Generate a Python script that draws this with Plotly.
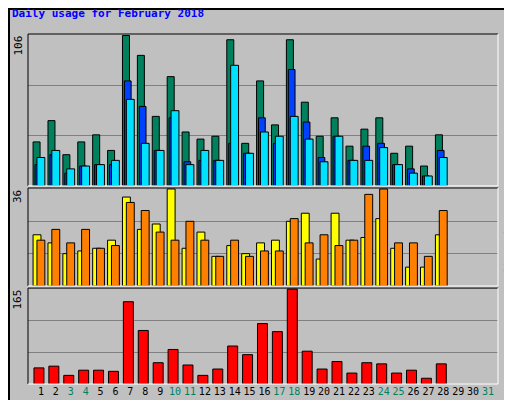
import plotly.graph_objects as go

days = list(range(1, 32))
data_days = list(range(1, 29))
hits  = [31,46,22,31,36,25,106,92,49,77,38,33,35,103,30,74,43,103,59,35,48,28,40,48,23,28,14,36]
files = [15,22,9,14,15,15,74,56,25,48,17,18,18,30,23,48,30,82,45,20,35,18,28,30,15,12,7,25]
pages = [20,25,12,14,15,18,61,30,25,53,15,25,18,85,23,38,35,49,33,17,35,18,18,27,15,9,7,20]
visits = [19,16,12,13,14,17,33,21,23,36,14,20,11,15,12,16,17,24,27,10,27,17,18,25,14,7,7,19]
sites  = [17,21,16,21,14,15,31,28,20,17,24,17,11,17,11,13,13,25,16,19,15,17,34,36,16,16,11,28]
kbytes = [28,31,15,24,24,22,143,93,37,60,33,15,26,66,51,105,91,165,57,26,39,19,37,35,19,24,10,35]
weekend = {3,4,10,11,17,18,24,25,31}
ticktext = [f'<span style="color:#00805C">{d}</span>' if d in weekend else str(d) for d in days]

FONT = "DejaVu Sans Mono"
fig = go.Figure()
def bar(y, color, off, w, ax):
    fig.add_trace(go.Bar(x=data_days, y=y, marker=dict(color=color, line=dict(color="black", width=1)),
                         offset=off, width=w, xaxis="x", yaxis=ax, showlegend=False))
bar(hits, "#00805C", -0.53, 0.47, "y")
bar(files, "#0040FF", -0.4, 0.45, "y")
bar(pages, "#00E0FF", -0.27, 0.53, "y")
bar(visits, "#FFFF00", -0.53, 0.53, "y2")
bar(sites, "#FF8000", -0.27, 0.53, "y2")
bar(kbytes, "#FF0000", -0.47, 0.67, "y3")

def yax(dom, mx):
    return dict(domain=dom, range=[0, mx * 1.01], tickvals=[mx/3, 2*mx/3], showticklabels=False,
                ticks="", gridcolor="#808080", gridwidth=1, zeroline=False, fixedrange=True)

fig.update_layout(
    width=512, height=400, barmode="overlay",
    margin=dict(l=20, r=22, t=26, b=24),
    paper_bgcolor="#C0C0C0", plot_bgcolor="#C0C0C0",
    font=dict(family=FONT, size=11, color="black"),
    xaxis=dict(range=[0.13, 31.67], tickvals=days, ticktext=ticktext, ticks="", tickangle=0,
               tickfont=dict(size=10), showgrid=False, zeroline=False, anchor="y3"),
    yaxis=yax([0.566, 1], 106),
    yaxis2=yax([0.28, 0.56], 36),
    yaxis3=yax([0, 0.274], 165),
)
RX = 1 + 3/470
ann = [
    dict(x=-18/470, y=1+20/350, xref="paper", yref="paper", xanchor="left", yanchor="middle",
         text="<b>Daily usage for February 2018</b>", showarrow=False, font=dict(color="#0000FF", size=11)),
    dict(x=-2/470, y=1, xref="paper", yref="paper", xanchor="right", yanchor="top", textangle=-90,
         text="106", showarrow=False),
    dict(x=-2/470, y=0.56, xref="paper", yref="paper", xanchor="right", yanchor="top", textangle=-90,
         text="36", showarrow=False),
    dict(x=-2/470, y=0.274, xref="paper", yref="paper", xanchor="right", yanchor="top", textangle=-90,
         text="165", showarrow=False),
    dict(x=RX, y=1, xref="paper", yref="paper", xanchor="left", yanchor="top", textangle=-90,
         text='<span style="color:#00E0FF">Pages</span> / <span style="color:#0040FF">Files</span> / <span style="color:#00805C">Hits</span>',
         showarrow=False, font=dict(size=10)),
    dict(x=RX, y=0.56, xref="paper", yref="paper", xanchor="left", yanchor="top", textangle=-90,
         text='<span style="color:#FF8000">Sites</span> / <span style="color:#FFFF00">Visits</span>',
         showarrow=False, font=dict(size=10)),
    dict(x=RX, y=0.0, xref="paper", yref="paper", xanchor="left", yanchor="bottom", textangle=-90,
         text='<span style="color:#FF0000">kB F</span>', showarrow=False, font=dict(size=10)),
]
fig.update_layout(annotations=ann)
shapes = []
for y0, y1 in [(0.566, 1), (0.28, 0.56), (0, 0.274)]:
    shapes.append(dict(type="line", xref="paper", yref="paper", x0=0, x1=1, y0=y1, y1=y1, line=dict(color="black", width=1)))
    shapes.append(dict(type="line", xref="paper", yref="paper", x0=0, x1=0, y0=y0, y1=y1, line=dict(color="black", width=1)))
    shapes.append(dict(type="line", xref="paper", yref="paper", x0=1, x1=1, y0=y0, y1=y1, line=dict(color="white", width=1)))
    shapes.append(dict(type="line", xref="paper", yref="paper", x0=0, x1=1, y0=y0, y1=y0, line=dict(color="white", width=1)))
shapes.append(dict(type="rect", xref="paper", yref="paper", x0=-19/470, x1=1+20/470, y0=-22/350, y1=1+25/350,
                   line=dict(color="black", width=2)))
fig.update_layout(shapes=shapes)
fig.write_html("out.html")
